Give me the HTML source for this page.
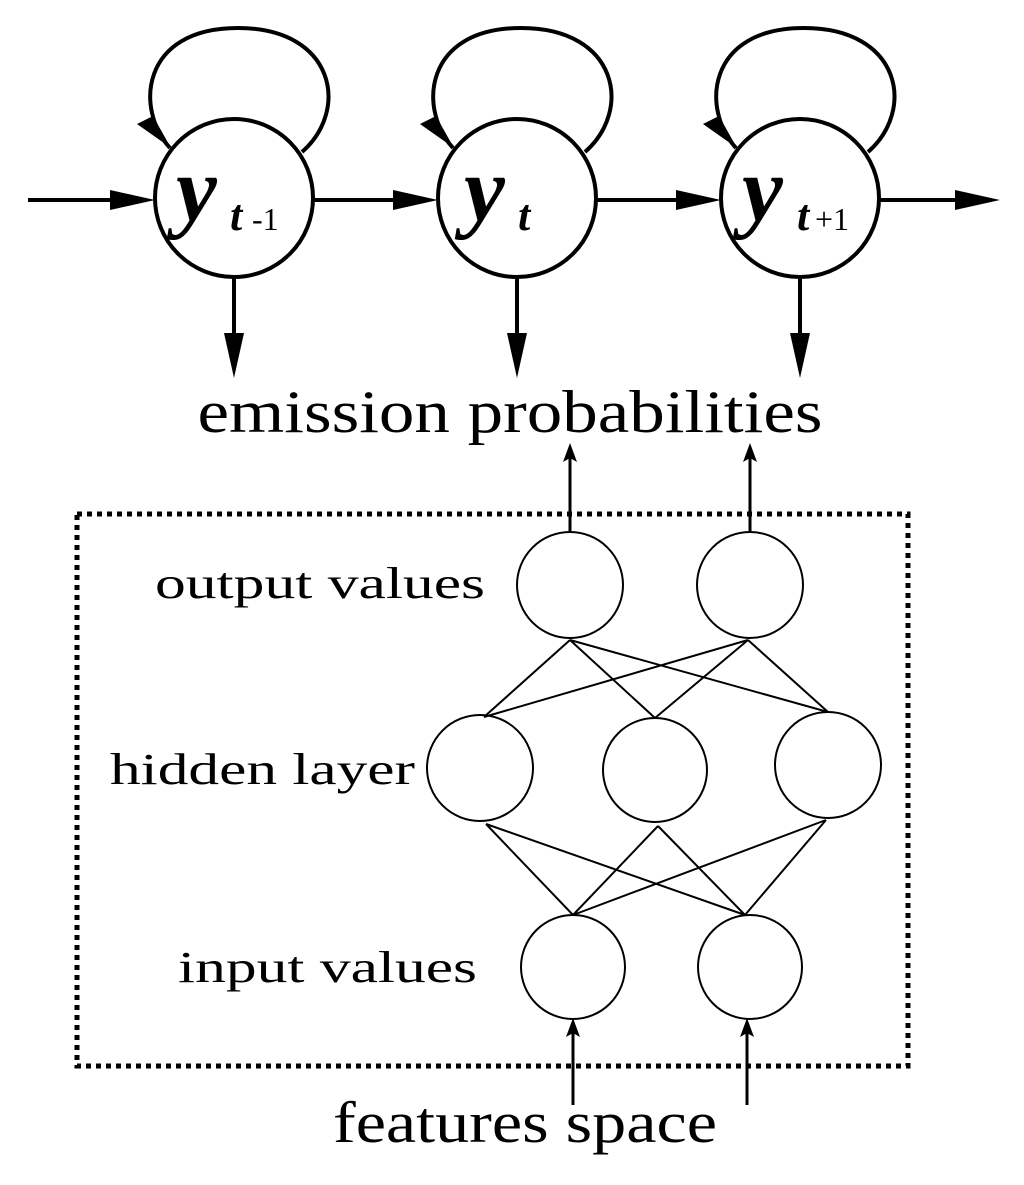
<!DOCTYPE html>
<html><head><meta charset="utf-8"><style>
html,body{margin:0;padding:0;background:#fff;}
svg{display:block}
</style></head><body>
<svg width="1024" height="1185" viewBox="0 0 1024 1185" xmlns="http://www.w3.org/2000/svg" font-family="Liberation Serif, serif">
<g stroke="#000" stroke-width="4" fill="none">
<circle cx="234" cy="198" r="79"/>
<circle cx="517" cy="198" r="79"/>
<circle cx="800" cy="198" r="79"/>
<path d="M170 148 C135 110,140 28,238 28 C335 28,350 110,302 152"/>
<path d="M453 148 C418 110,423 28,521 28 C618 28,633 110,585 152"/>
<path d="M736 148 C701 110,706 28,804 28 C901 28,916 110,868 152"/>
<line x1="28" y1="200" x2="130" y2="200"/>
<line x1="313" y1="200" x2="413" y2="200"/>
<line x1="596" y1="200" x2="696" y2="200"/>
<line x1="879" y1="200" x2="970" y2="200"/>
<line x1="234" y1="277" x2="234" y2="340"/>
<line x1="517" y1="277" x2="517" y2="340"/>
<line x1="800" y1="277" x2="800" y2="340"/>
</g>
<g fill="#000">
<polygon points="155,200 110,190 110,210"/>
<polygon points="438,200 393,190 393,210"/>
<polygon points="721,200 676,190 676,210"/>
<polygon points="1000,200 955,190 955,210"/>
<polygon points="234,378 224,333 244,333"/>
<polygon points="517,378 507,333 527,333"/>
<polygon points="800,378 790,333 810,333"/>
<polygon points="171,148 137,124 153,116"/>
<polygon points="454,148 420,124 436,116"/>
<polygon points="737,148 703,124 719,116"/>
</g>
<g font-weight="bold" font-style="italic">
<text x="176" y="220" font-size="92">y</text><text x="230" y="230" font-size="44">t</text><text x="252" y="230" font-size="32" font-style="normal" font-weight="normal">-1</text>
<text x="464" y="220" font-size="92">y</text><text x="518" y="230" font-size="44">t</text>
<text x="742" y="220" font-size="92">y</text><text x="797" y="230" font-size="44">t</text><text x="815" y="230" font-size="32" font-style="normal" font-weight="normal">+1</text>
</g>
<text x="510" y="432" font-size="60" text-anchor="middle" textLength="625" lengthAdjust="spacingAndGlyphs">emission probabilities</text>
<rect x="77" y="514" width="831" height="552" fill="none" stroke="#000" stroke-width="5" stroke-dasharray="5,5"/>
<g stroke="#000" stroke-width="2" fill="none">
<circle cx="570" cy="585" r="53"/>
<circle cx="750" cy="585" r="53"/>
<circle cx="480" cy="768" r="53"/>
<circle cx="655" cy="770" r="52"/>
<circle cx="828" cy="765" r="53"/>
<circle cx="573" cy="967" r="52"/>
<circle cx="750" cy="967" r="52"/>
<path d="M570 640 L484 717 M570 640 L655 718 M570 640 L828 712 M748 640 L484 717 M748 640 L655 718 M748 640 L828 712"/>
<path d="M486 824 L573 915 M486 824 L745 915 M658 826 L573 915 M658 826 L745 915 M826 820 L573 915 M826 820 L745 915"/>
</g>
<g stroke="#000" stroke-width="3">
<line x1="570" y1="532" x2="570" y2="455"/>
<line x1="750" y1="532" x2="750" y2="455"/>
<line x1="573" y1="1105" x2="573" y2="1025"/>
<line x1="747" y1="1105" x2="747" y2="1025"/>
</g>
<g fill="#000">
<polygon points="570,443 563,462 570,458 577,462"/>
<polygon points="750,443 743,462 750,458 757,462"/>
<polygon points="573,1018 566,1037 573,1033 580,1037"/>
<polygon points="747,1018 740,1037 747,1033 754,1037"/>
</g>
<g font-size="44">
<text x="155" y="598" textLength="330" lengthAdjust="spacingAndGlyphs">output values</text>
<text x="110" y="784" textLength="305" lengthAdjust="spacingAndGlyphs">hidden layer</text>
<text x="178" y="982" textLength="299" lengthAdjust="spacingAndGlyphs">input values</text>
</g>
<text x="525" y="1142" font-size="58" text-anchor="middle" textLength="384" lengthAdjust="spacingAndGlyphs">features space</text>
</svg>
</body></html>
